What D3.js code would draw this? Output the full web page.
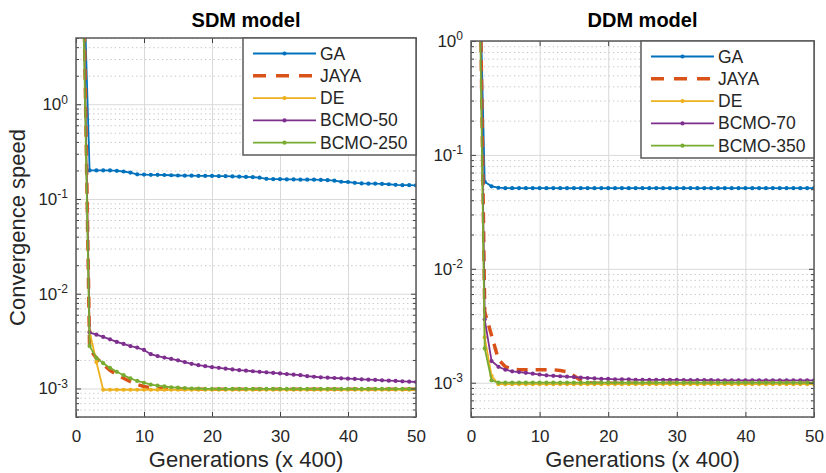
<!DOCTYPE html>
<html>
<head>
<meta charset="utf-8">
<script src="https://cdn.jsdelivr.net/npm/d3@7"></script>
<style>
  body { margin: 0; background: #fff; }
  svg { font-family: "Liberation Sans", Arial, Helvetica, sans-serif; }
</style>
</head>
<body>
<div id="chart"></div>
<script>
// generations (x 400) on the x axis
var GENERATIONS = [
  1, 2, 3, 4, 5, 6, 7, 8, 9, 10,
  11, 12, 13, 14, 15, 16, 17, 18, 19, 20,
  21, 22, 23, 24, 25, 26, 27, 28, 29, 30,
  31, 32, 33, 34, 35, 36, 37, 38, 39, 40,
  41, 42, 43, 44, 45, 46, 47, 48, 49, 50
];
var X_TICKS = [0, 10, 20, 30, 40, 50];

var SDM_NAMES = ['GA', 'JAYA', 'DE', 'BCMO-50', 'BCMO-250'];
var DDM_NAMES = ['GA', 'JAYA', 'DE', 'BCMO-70', 'BCMO-350'];

// SDM model
var SDM_GA = [
  50, 0.2, 0.2, 0.2, 0.2, 0.198, 0.195, 0.19, 0.182, 0.181,
  0.18, 0.18, 0.179, 0.178, 0.177, 0.176, 0.176, 0.175, 0.175, 0.175,
  0.174, 0.174, 0.173, 0.172, 0.171, 0.17, 0.168, 0.163, 0.162, 0.162,
  0.161, 0.161, 0.16, 0.16, 0.16, 0.159, 0.158, 0.156, 0.152, 0.151,
  0.148, 0.146, 0.145, 0.145, 0.144, 0.143, 0.141, 0.14, 0.14, 0.139
];
var SDM_JAYA = [
  60, 2.6e-3, 2.1e-3, 1.8e-3, 1.55e-3, 1.4e-3, 1.28e-3, 1.18e-3, 1.1e-3, 1.05e-3,
  1.02e-3, 1.0e-3, 9.9e-4, 9.9e-4, 9.85e-4, 9.85e-4, 9.85e-4, 9.8e-4, 9.8e-4, 9.8e-4,
  9.8e-4, 9.8e-4, 9.8e-4, 9.8e-4, 9.8e-4, 9.8e-4, 9.8e-4, 9.8e-4, 9.8e-4, 9.8e-4,
  9.8e-4, 9.8e-4, 9.8e-4, 9.8e-4, 9.8e-4, 9.8e-4, 9.8e-4, 9.8e-4, 9.8e-4, 9.8e-4,
  9.8e-4, 9.8e-4, 9.8e-4, 9.8e-4, 9.8e-4, 9.8e-4, 9.8e-4, 9.8e-4, 9.8e-4, 9.8e-4
];
var SDM_DE = [
  40, 4.0e-3, 1.9e-3, 9.7e-4, 9.7e-4, 9.7e-4, 9.7e-4, 9.7e-4, 9.7e-4, 9.7e-4,
  9.7e-4, 9.7e-4, 9.7e-4, 9.7e-4, 9.7e-4, 9.7e-4, 9.7e-4, 9.7e-4, 9.7e-4, 9.7e-4,
  9.7e-4, 9.7e-4, 9.7e-4, 9.7e-4, 9.7e-4, 9.7e-4, 9.7e-4, 9.7e-4, 9.7e-4, 9.7e-4,
  9.7e-4, 9.7e-4, 9.7e-4, 9.7e-4, 9.7e-4, 9.7e-4, 9.7e-4, 9.7e-4, 9.7e-4, 9.7e-4,
  9.7e-4, 9.7e-4, 9.7e-4, 9.7e-4, 9.7e-4, 9.7e-4, 9.7e-4, 9.7e-4, 9.7e-4, 9.7e-4
];
var SDM_BCMO_50 = [
  30, 3.9e-3, 3.7e-3, 3.5e-3, 3.3e-3, 3.1e-3, 2.95e-3, 2.8e-3, 2.7e-3, 2.55e-3,
  2.3e-3, 2.2e-3, 2.12e-3, 2.05e-3, 1.98e-3, 1.9e-3, 1.82e-3, 1.76e-3, 1.72e-3, 1.68e-3,
  1.65e-3, 1.62e-3, 1.59e-3, 1.56e-3, 1.54e-3, 1.52e-3, 1.5e-3, 1.48e-3, 1.46e-3, 1.44e-3,
  1.42e-3, 1.4e-3, 1.38e-3, 1.35e-3, 1.33e-3, 1.31e-3, 1.3e-3, 1.29e-3, 1.28e-3, 1.27e-3,
  1.26e-3, 1.25e-3, 1.24e-3, 1.23e-3, 1.22e-3, 1.21e-3, 1.2e-3, 1.19e-3, 1.18e-3, 1.17e-3
];
var SDM_BCMO_250 = [
  20, 2.8e-3, 2.1e-3, 1.85e-3, 1.65e-3, 1.5e-3, 1.38e-3, 1.28e-3, 1.2e-3, 1.15e-3,
  1.1e-3, 1.07e-3, 1.05e-3, 1.03e-3, 1.02e-3, 1.01e-3, 1.0e-3, 1.0e-3, 9.9e-4, 9.9e-4,
  9.9e-4, 9.9e-4, 9.9e-4, 9.9e-4, 9.9e-4, 9.9e-4, 9.9e-4, 9.9e-4, 9.9e-4, 9.9e-4,
  9.9e-4, 9.9e-4, 9.9e-4, 9.9e-4, 9.9e-4, 9.9e-4, 9.9e-4, 9.9e-4, 9.9e-4, 9.9e-4,
  9.9e-4, 9.9e-4, 9.9e-4, 9.9e-4, 9.9e-4, 9.9e-4, 9.9e-4, 9.9e-4, 9.9e-4, 9.9e-4
];

// DDM model
var DDM_GA = [
  20, 0.058, 0.053, 0.0515, 0.051, 0.051, 0.051, 0.051, 0.051, 0.051,
  0.051, 0.051, 0.051, 0.051, 0.051, 0.051, 0.051, 0.051, 0.051, 0.051,
  0.051, 0.051, 0.051, 0.051, 0.051, 0.051, 0.051, 0.051, 0.051, 0.051,
  0.051, 0.051, 0.051, 0.051, 0.051, 0.051, 0.051, 0.051, 0.051, 0.051,
  0.051, 0.051, 0.051, 0.051, 0.051, 0.051, 0.051, 0.051, 0.051, 0.051
];
var DDM_JAYA = [
  100, 4.2e-3, 2.6e-3, 1.6e-3, 1.38e-3, 1.32e-3, 1.3e-3, 1.3e-3, 1.3e-3, 1.3e-3,
  1.3e-3, 1.3e-3, 1.28e-3, 1.25e-3, 1.15e-3, 1.05e-3, 1.0e-3, 9.9e-4, 9.9e-4, 9.9e-4,
  9.9e-4, 9.9e-4, 9.9e-4, 9.9e-4, 9.9e-4, 9.9e-4, 9.9e-4, 9.9e-4, 9.9e-4, 9.9e-4,
  9.9e-4, 9.9e-4, 9.9e-4, 9.9e-4, 9.9e-4, 9.9e-4, 9.9e-4, 9.9e-4, 9.9e-4, 9.9e-4,
  9.9e-4, 9.9e-4, 9.9e-4, 9.9e-4, 9.9e-4, 9.9e-4, 9.9e-4, 9.9e-4, 9.9e-4, 9.9e-4
];
var DDM_DE = [
  80, 2.5e-3, 1.15e-3, 9.7e-4, 9.7e-4, 9.7e-4, 9.7e-4, 9.7e-4, 9.7e-4, 9.7e-4,
  9.7e-4, 9.7e-4, 9.7e-4, 9.7e-4, 9.7e-4, 9.7e-4, 9.7e-4, 9.7e-4, 9.7e-4, 9.7e-4,
  9.7e-4, 9.7e-4, 9.7e-4, 9.7e-4, 9.7e-4, 9.7e-4, 9.7e-4, 9.7e-4, 9.7e-4, 9.7e-4,
  9.7e-4, 9.7e-4, 9.7e-4, 9.7e-4, 9.7e-4, 9.7e-4, 9.7e-4, 9.7e-4, 9.7e-4, 9.7e-4,
  9.7e-4, 9.7e-4, 9.7e-4, 9.7e-4, 9.7e-4, 9.7e-4, 9.7e-4, 9.7e-4, 9.7e-4, 9.7e-4
];
var DDM_BCMO_70 = [
  60, 3.6e-3, 1.55e-3, 1.38e-3, 1.3e-3, 1.26e-3, 1.24e-3, 1.22e-3, 1.2e-3, 1.18e-3,
  1.16e-3, 1.15e-3, 1.14e-3, 1.13e-3, 1.12e-3, 1.11e-3, 1.1e-3, 1.09e-3, 1.08e-3, 1.08e-3,
  1.07e-3, 1.07e-3, 1.07e-3, 1.06e-3, 1.06e-3, 1.06e-3, 1.06e-3, 1.06e-3, 1.06e-3, 1.06e-3,
  1.055e-3, 1.055e-3, 1.055e-3, 1.055e-3, 1.055e-3, 1.05e-3, 1.05e-3, 1.05e-3, 1.05e-3, 1.05e-3,
  1.05e-3, 1.05e-3, 1.05e-3, 1.05e-3, 1.05e-3, 1.05e-3, 1.05e-3, 1.05e-3, 1.05e-3, 1.05e-3
];
var DDM_BCMO_350 = [
  40, 2.0e-3, 1.05e-3, 1.0e-3, 1.0e-3, 1.0e-3, 1.0e-3, 1.0e-3, 1.0e-3, 1.0e-3,
  1.0e-3, 1.0e-3, 1.0e-3, 1.0e-3, 1.0e-3, 1.0e-3, 1.0e-3, 1.0e-3, 1.0e-3, 1.0e-3,
  1.0e-3, 1.0e-3, 1.0e-3, 1.0e-3, 1.0e-3, 1.0e-3, 1.0e-3, 1.0e-3, 1.0e-3, 1.0e-3,
  1.0e-3, 1.0e-3, 1.0e-3, 1.0e-3, 1.0e-3, 1.0e-3, 1.0e-3, 1.0e-3, 1.0e-3, 1.0e-3,
  1.0e-3, 1.0e-3, 1.0e-3, 1.0e-3, 1.0e-3, 1.0e-3, 1.0e-3, 1.0e-3, 1.0e-3, 1.0e-3
];

// matlab default line colours, JAYA is the dashed one
var COLORS = ['#0072bd', '#d95319', '#edb120', '#7e2f8e', '#77ac30'];
var DASHED = [false, true, false, false, false];
var TEXT_COLOR = '#262626';

var svg = d3.select('#chart')
  .append('svg')
    .attr('width', 826)
    .attr('height', 473);

drawPanel('sdm', 'SDM model', { left: 76, right: 416, top: 38, bottom: 417 }, [5e-4, 5],
  SDM_NAMES, [SDM_GA, SDM_JAYA, SDM_DE, SDM_BCMO_50, SDM_BCMO_250], true);
drawPanel('ddm', 'DDM model', { left: 471, right: 814, top: 41, bottom: 417 }, [5e-4, 1],
  DDM_NAMES, [DDM_GA, DDM_JAYA, DDM_DE, DDM_BCMO_70, DDM_BCMO_350], false);

function isDecade(d) {
  var l = Math.log10(d);
  return Math.abs(l - Math.round(l)) < 1e-9;
}

function drawPanel(id, title, box, yDomain, names, series, withYLabel) {
  var WIDTH = box.right - box.left;
  var HEIGHT = box.bottom - box.top;

  var x = d3.scaleLinear().domain([0, 50]).range([box.left, box.right]);
  var y = d3.scaleLog().domain(yDomain).range([box.bottom, box.top]);

  var decades = y.ticks().filter(isDecade);
  var minors = y.ticks().filter(function (d) { return !isDecade(d); });

  // grid: dotted minor, solid light major
  svg.append('g')
    .attr('transform', 'translate(' + box.left + ',0)')
    .call(d3.axisLeft(y).tickValues(minors).tickSize(-WIDTH).tickFormat(''))
    .call(function (g) {
      g.select('.domain').remove();
      g.selectAll('.tick line').attr('stroke', '#c4c4c4').attr('stroke-dasharray', '1.3,3');
    });
  svg.append('g')
    .attr('transform', 'translate(' + box.left + ',0)')
    .call(d3.axisLeft(y).tickValues(decades).tickSize(-WIDTH).tickFormat(''))
    .call(function (g) {
      g.select('.domain').remove();
      g.selectAll('.tick line').attr('stroke', '#d9d9d9');
    });
  svg.append('g')
    .attr('transform', 'translate(0,' + box.bottom + ')')
    .call(d3.axisBottom(x).tickValues(X_TICKS).tickSize(-HEIGHT).tickFormat(''))
    .call(function (g) {
      g.select('.domain').remove();
      g.selectAll('.tick line').attr('stroke', '#d9d9d9');
    });

  // clip the lines to the axes box
  svg.append('clipPath')
    .attr('id', 'clip-' + id)
    .append('rect')
      .attr('x', box.left)
      .attr('y', box.top)
      .attr('width', WIDTH)
      .attr('height', HEIGHT);

  var plot = svg.append('g').attr('clip-path', 'url(#clip-' + id + ')');

  var valueline = d3.line()
    .x(function (d) { return x(d.gen); })
    .y(function (d) { return y(d.val); });

  series.forEach(function (values, i) {
    var data = GENERATIONS.map(function (g, k) { return { gen: g, val: values[k] }; });

    plot.append('path')
      .datum(data)
      .attr('fill', 'none')
      .attr('stroke', COLORS[i])
      .attr('stroke-width', DASHED[i] ? 3.5 : 1.8)
      .attr('stroke-dasharray', DASHED[i] ? '11,8' : null)
      .attr('d', valueline);

    if (!DASHED[i]) {
      plot.selectAll('.dot-' + i)
        .data(data)
        .enter().append('circle')
          .attr('class', 'dot-' + i)
          .attr('cx', function (d) { return x(d.gen); })
          .attr('cy', function (d) { return y(d.val); })
          .attr('r', 2.1)
          .attr('fill', COLORS[i]);
    }
  });

  // axes with inward ticks on all four sides
  var axisColor = '#404040';

  svg.append('g')
    .attr('transform', 'translate(0,' + box.bottom + ')')
    .attr('color', axisColor)
    .call(d3.axisBottom(x).tickValues(X_TICKS).tickSizeInner(-5).tickSizeOuter(0).tickPadding(13))
    .call(function (g) {
      g.select('.domain').remove();
      g.selectAll('text').attr('font-size', 17).attr('font-family', null).attr('fill', TEXT_COLOR);
    });
  svg.append('g')
    .attr('transform', 'translate(0,' + box.top + ')')
    .attr('color', axisColor)
    .call(d3.axisTop(x).tickValues(X_TICKS).tickSizeInner(-5).tickSizeOuter(0).tickFormat(''))
    .call(function (g) { g.select('.domain').remove(); });

  svg.append('g')
    .attr('transform', 'translate(' + box.left + ',0)')
    .attr('color', axisColor)
    .call(d3.axisLeft(y).tickValues(decades).tickSizeInner(-5).tickSizeOuter(0).tickPadding(8))
    .call(function (g) {
      g.select('.domain').remove();
      g.selectAll('.tick text').each(function (d) {
        var t = d3.select(this)
          .text(null)
          .attr('font-size', 17)
          .attr('fill', TEXT_COLOR);
        t.append('tspan').text('10');
        t.append('tspan')
          .attr('dy', '-0.55em')
          .attr('font-size', 12)
          .text(Math.round(Math.log10(d)));
      });
    });
  svg.append('g')
    .attr('transform', 'translate(' + box.left + ',0)')
    .attr('color', axisColor)
    .call(d3.axisLeft(y).tickValues(minors).tickSizeInner(-3).tickSizeOuter(0).tickFormat(''))
    .call(function (g) { g.select('.domain').remove(); });
  svg.append('g')
    .attr('transform', 'translate(' + box.right + ',0)')
    .attr('color', axisColor)
    .call(d3.axisRight(y).tickValues(decades).tickSizeInner(-5).tickSizeOuter(0).tickFormat(''))
    .call(function (g) { g.select('.domain').remove(); });
  svg.append('g')
    .attr('transform', 'translate(' + box.right + ',0)')
    .attr('color', axisColor)
    .call(d3.axisRight(y).tickValues(minors).tickSizeInner(-3).tickSizeOuter(0).tickFormat(''))
    .call(function (g) { g.select('.domain').remove(); });

  // axes box
  svg.append('rect')
    .attr('x', box.left)
    .attr('y', box.top)
    .attr('width', WIDTH)
    .attr('height', HEIGHT)
    .attr('fill', 'none')
    .attr('stroke', '#5a5a5a')
    .attr('stroke-width', 1.5);

  // legend, top right corner
  var LEG_W = 173, LEG_H = 117, ROW = 22.3;
  var legend = svg.append('g')
    .attr('transform', 'translate(' + (box.right - LEG_W) + ',' + box.top + ')');

  legend.append('rect')
    .attr('width', LEG_W)
    .attr('height', LEG_H)
    .attr('fill', '#fff')
    .attr('stroke', '#5a5a5a')
    .attr('stroke-width', 1.5);

  names.forEach(function (name, i) {
    var ry = 15.5 + i * ROW;
    legend.append('line')
      .attr('x1', 10).attr('x2', 73)
      .attr('y1', ry).attr('y2', ry)
      .attr('stroke', COLORS[i])
      .attr('stroke-width', DASHED[i] ? 3.5 : 1.8)
      .attr('stroke-dasharray', DASHED[i] ? '13,10' : null);
    if (!DASHED[i]) {
      legend.append('circle')
        .attr('cx', 41.5).attr('cy', ry).attr('r', 2.1)
        .attr('fill', COLORS[i]);
    }
    legend.append('text')
      .attr('x', 77)
      .attr('y', ry + 6)
      .attr('font-size', 17.5)
      .attr('fill', TEXT_COLOR)
      .text(name);
  });

  // title and axis labels
  svg.append('text')
    .attr('x', (box.left + box.right) / 2)
    .attr('y', 27)
    .attr('text-anchor', 'middle')
    .attr('font-size', 20)
    .attr('font-weight', 'bold')
    .attr('fill', '#000')
    .text(title);

  svg.append('text')
    .attr('x', (box.left + box.right) / 2)
    .attr('y', 467)
    .attr('text-anchor', 'middle')
    .attr('font-size', 22)
    .attr('fill', TEXT_COLOR)
    .text('Generations (x 400)');

  if (withYLabel) {
    svg.append('text')
      .attr('transform', 'translate(25,' + ((box.top + box.bottom) / 2) + ') rotate(-90)')
      .attr('text-anchor', 'middle')
      .attr('font-size', 22)
      .attr('fill', TEXT_COLOR)
      .text('Convergence speed');
  }
}
</script>
</body>
</html>
